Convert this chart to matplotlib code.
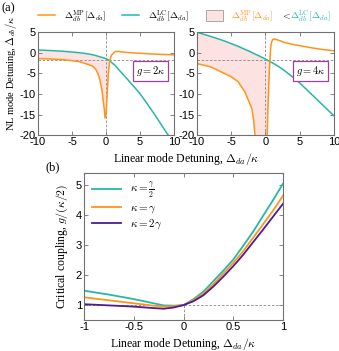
import numpy as np
import matplotlib
matplotlib.use("Agg")
import matplotlib.pyplot as plt
from matplotlib.patches import Rectangle
from matplotlib.lines import Line2D

plt.rcParams['font.family'] = ['Liberation Sans', 'DejaVu Sans']
plt.rcParams['mathtext.fontset'] = 'cm'
plt.rcParams['axes.unicode_minus'] = False

# panel (a) left, g = 2 kappa
x_g2 = [-10, -8, -6, -4, -3, -2, -1.5, -1.2, -0.9, -0.6, -0.4, -0.2, -0.1, 0, 0.1, 0.2,
        0.35, 0.5, 0.6, 0.8, 1.08, 1.3, 1.6, 2, 3, 4, 5, 6, 7, 8, 9, 10]
mp_g2 = [-1.4, -1.5, -1.7, -2.1, -2.6, -3.2, -4.0, -5.0, -6.5, -9.0, -11.5, -14.5, -15.8, -15.0,
         -12.5, -9.5, -5.0, -2.6, -1.7, -0.6, -0.1, 0.25, 0.35, 0.3, 0.1, 0.0, -0.1, -0.2, -0.28,
         -0.35, -0.42, -0.5]
lc_g2 = [0.7, 0.55, 0.35, 0.05, -0.15, -0.45, -0.65, -0.8, -0.95, -1.1, -1.2, -1.3, -1.35, -1.4,
         -1.5, -1.55, -1.7, -1.85, -2.0, -2.3, -2.7, -3.0, -3.5, -4.3, -6.1, -8.0, -9.9, -12.2,
         -14.6, -17.1, -19.6, -22.0]

# panel (a) right, g = 4 kappa
x_g4 = [-10, -8, -6, -5, -4, -3, -2.5, -2, -1.75, -1.5, -1.3, -1.1, -0.5, 0, 0.1, 0.2, 0.26,
        0.35, 0.5, 0.65, 0.76, 0.9, 1.05, 1.25, 1.6, 2, 2.6, 3, 4, 5, 6, 7, 8, 9, 10]
mp_g4 = [-2.6, -3.4, -5.0, -5.8, -7.0, -9.5, -11.5, -13.5, -16.0, -20.5, -27.0, -40, -40, -40,
         -40, -30, -20, -14, -7.0, -1.7, 1.3, 2.6, 3.2, 3.4, 3.25, 3.0, 2.65, 2.45, 2.05, 1.75,
         1.45, 1.15, 0.9, 0.7, 0.5]
lc_g4 = [5.0, 4.0, 2.9, 2.25, 1.6, 0.85, 0.5, 0.1, -0.1, -0.3, -0.45, -0.6, -1.1, -1.5, -1.6,
         -1.7, -1.75, -1.85, -1.95, -2.1, -2.2, -2.35, -2.45, -2.65, -3.0, -3.4, -4.1, -4.6,
         -5.9, -7.3, -8.9, -10.5, -12.1, -13.7, -15.3]
ref_level = -1.7

# panel (b) critical coupling
x_b = [-1, -0.75, -0.5, -0.3, -0.2, -0.1, 0, 0.1, 0.2, 0.3, 0.4, 0.5, 0.6, 0.7, 0.8, 0.9, 1.0]
g_half = [1.48, 1.35, 1.2, 1.06, 0.99, 0.98, 1.0, 1.2, 1.45, 1.8, 2.15, 2.52, 2.98, 3.45, 3.98, 4.5, 5.05]
g_one = [1.26, 1.16, 1.06, 0.98, 0.95, 0.96, 1.0, 1.17, 1.38, 1.7, 2.05, 2.41, 2.8, 3.25, 3.7, 4.15, 4.65]
g_two = [1.03, 0.99, 0.95, 0.9, 0.88, 0.92, 1.0, 1.13, 1.33, 1.62, 1.95, 2.3, 2.68, 3.1, 3.52, 3.95, 4.38]
b_labels = [r'$\kappa=\frac{\gamma}{2}$', r'$\kappa=\gamma$', r'$\kappa=2\gamma$']

c_or = '#ff9419'
c_te = '#25b8a8'
c_pu = '#4f1a96'
c_fill = '#fde2e2'
c_ax = '#707070'
serif = ['Liberation Serif', 'DejaVu Serif']

fig = plt.figure(figsize=(3.39, 3.51), dpi=100)


def style(ax):
    for s in ax.spines.values():
        s.set_color(c_ax)
        s.set_linewidth(0.8)
    ax.tick_params(direction='in', top=True, right=True, length=3, width=0.6,
                   color=c_ax, labelsize=8, pad=1.5)


def panel_a(ax, x, mp, lc, gtxt):
    x = np.array(x); mp = np.array(mp); lc = np.array(lc)
    ax.fill_between(x, mp, lc, where=mp < lc, interpolate=True, color=c_fill, lw=0)
    ax.axvline(0, color='#888888', lw=0.6, ls=(0, (3, 2)))
    ax.axhline(ref_level, color='#888888', lw=0.6, ls=(0, (3, 2)))
    ax.plot(x, lc, color=c_te, lw=1.1)
    ax.plot(x, mp, color=c_or, lw=1.1)
    ax.set_xlim(-10, 10)
    ax.set_ylim(-20, 5)
    ax.set_xticks([-10, -5, 0, 5, 10])
    ax.set_yticks([5, 0, -5, -10, -15, -20])
    ax.text(6.6, -4.4, gtxt, fontsize=7.5, ha='center', va='center',
            bbox=dict(boxstyle='square,pad=0.25', fc='white', ec='#a040a0', lw=0.9))
    style(ax)


ax1 = fig.add_axes([0.112, 0.615, 0.401, 0.293])
panel_a(ax1, x_g2, mp_g2, lc_g2, r'$g=2\kappa$')
ax1.set_ylabel(r'NL mode Detuning, $\Delta_{db}/\kappa$', family=serif, fontsize=7.5, labelpad=1)
ax1.yaxis.set_label_coords(-0.14, 0.6)

ax2 = fig.add_axes([0.581, 0.615, 0.404, 0.293])
panel_a(ax2, x_g4, mp_g4, lc_g4, r'$g=4\kappa$')

fig.text(0.55, 0.548, r'Linear mode Detuning, $\Delta_{da}/\kappa$', family=serif,
         fontsize=8.5, ha='center', va='center')
fig.text(0.003, 0.975, '(a)', family=serif, fontsize=9, va='center')
fig.text(0.135, 0.524, '(b)', family=serif, fontsize=9, va='center')

# top legend
h1 = Line2D([], [], color=c_or, lw=1.1)
h2 = Line2D([], [], color=c_te, lw=1.1)
fig.legend([h1, h2], [r'$\Delta_{db}^{\rm MP}[\Delta_{da}]$', r'$\Delta_{db}^{\rm LC}[\Delta_{da}]$'],
           loc='center left', bbox_to_anchor=(0.085, 0.955), ncol=2, frameon=False,
           fontsize=7, handlelength=1.8, handletextpad=0.9, columnspacing=1.6)
fig.patches.append(Rectangle((0.608, 0.94), 0.05, 0.032, transform=fig.transFigure,
                             fc=c_fill, ec='#999999', lw=0.6))
fig.text(0.682, 0.955, r'$\Delta_{db}^{\rm MP}[\Delta_{da}]$', color=c_or, fontsize=7, va='center')
fig.text(0.828, 0.955, r'$<$', fontsize=7, va='center')
fig.text(0.856, 0.955, r'$\Delta_{db}^{\rm LC}[\Delta_{da}]$', color=c_te, fontsize=7, va='center')

# panel (b)
ax3 = fig.add_axes([0.248, 0.088, 0.587, 0.419])
ax3.axhline(1, color='#888888', lw=0.6, ls=(0, (3, 2)))
ax3.axvline(0, ymax=0.1, color='#888888', lw=0.6, ls=(0, (3, 2)))
for ys, c, lab in zip([g_half, g_one, g_two], [c_te, c_or, c_pu], b_labels):
    ax3.plot(x_b, ys, color=c, lw=1.3, label=lab)
ax3.set_xlim(-1, 1)
ax3.set_ylim(0.5, 5.4)
ax3.set_xticks([-1, -0.5, 0, 0.5, 1])
ax3.set_xticklabels(['-1', '-0.5', '0', '0.5', '1'])
ax3.set_yticks([1, 2, 3, 4, 5])
style(ax3)
ax3.legend(loc='upper left', frameon=False, fontsize=8, handlelength=2.6,
           handletextpad=0.8, labelspacing=0.2, borderaxespad=0.3)
ax3.set_xlabel(r'Linear mode Detuning, $\Delta_{da}/\kappa$', family=serif, fontsize=8.5, labelpad=3)
ax3.set_ylabel(r'Critical coupling, $g/(\kappa/2)$', family=serif, fontsize=8.5, labelpad=4)

fig.savefig('out.png', dpi=100)
